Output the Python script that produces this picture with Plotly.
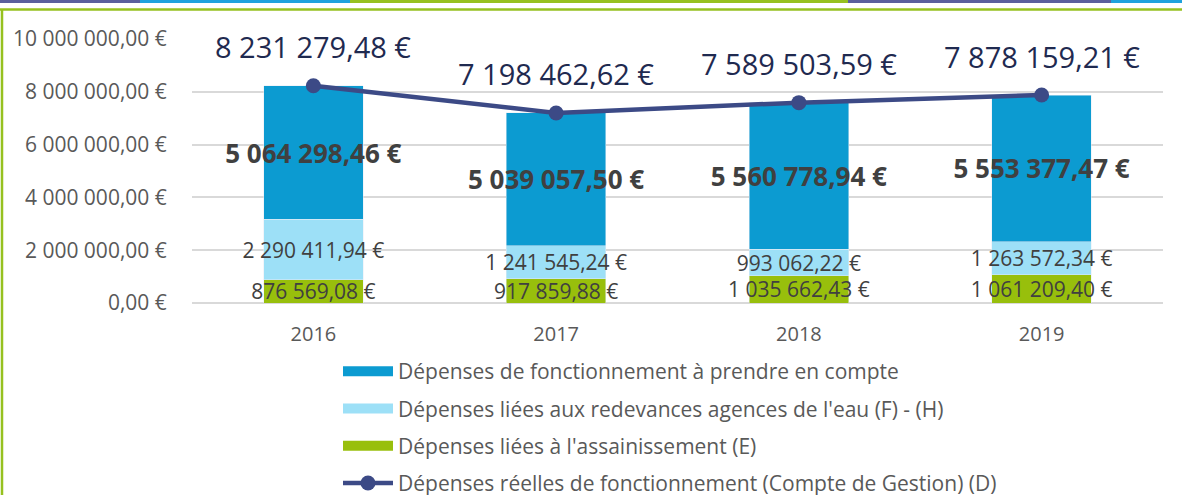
import plotly.graph_objects as go

# data
years = ["2016", "2017", "2018", "2019"]
assainissement = [876569.08, 917859.88, 1035662.43, 1061209.40]
redevances = [2290411.94, 1241545.24, 993062.22, 1263572.34]
fonctionnement = [5064298.46, 5039057.50, 5560778.94, 5553377.47]
depenses_reelles = [8231279.48, 7198462.62, 7589503.59, 7878159.21]

tick_vals = [0, 2000000, 4000000, 6000000, 8000000, 10000000]
tick_text = ["0,00 €", "2 000 000,00 €", "4 000 000,00 €", "6 000 000,00 €",
             "8 000 000,00 €", "10 000 000,00 €"]

names = [
    "Dépenses de fonctionnement à prendre en compte",
    "Dépenses liées aux redevances agences de l'eau (F) - (H)",
    "Dépenses liées à l'assainissement (E)",
    "Dépenses réelles de fonctionnement (Compte de Gestion) (D)",
]

BLUE = "#0c9bd1"
LIGHT = "#9de0f7"
GREEN = "#98bf0c"
NAVY = "#3c4a86"
TXT = "#404040"
GREY = "#595959"
FONT = "Open Sans, sans-serif"

W, H = 1182, 495
ML, MR, MT, MB = 192, 19, 39, 192


def eur(v):
    return f"{v:,.2f}".replace(",", " ").replace(".", ",") + " €"


def px(x, y):
    """pixel -> paper coords"""
    return (x - ML) / (W - ML - MR), (H - MB - y) / (H - MT - MB)


fig = go.Figure()

bar_common = dict(textposition="inside", insidetextanchor="middle", textangle=0,
                  constraintext="none", showlegend=False, hoverinfo="skip")

fig.add_trace(go.Bar(x=years, y=assainissement, marker_color=GREEN,
                     text=[eur(v) for v in assainissement],
                     insidetextfont=dict(family=FONT, size=21, color=TXT), **bar_common))
fig.add_trace(go.Bar(x=years, y=redevances, marker_color=LIGHT,
                     text=[eur(v) for v in redevances],
                     insidetextfont=dict(family=FONT, size=21, color=TXT), **bar_common))
fig.add_trace(go.Bar(x=years, y=fonctionnement, marker_color=BLUE,
                     text=[f"<b>{eur(v)}</b>" for v in fonctionnement],
                     insidetextfont=dict(family=FONT, size=26, color=TXT), **bar_common))

fig.add_trace(go.Scatter(x=years, y=depenses_reelles, mode="lines+markers",
                         line=dict(color=NAVY, width=4.5),
                         marker=dict(size=15, color=NAVY),
                         name=names[3], legendrank=4, legendgroup="d",
                         hoverinfo="skip"))

# legend entries for the bars drawn as wide swatches
for nm, col, rk in [(names[0], BLUE, 1), (names[1], LIGHT, 2), (names[2], GREEN, 3)]:
    fig.add_trace(go.Scatter(x=[years[0]], y=[None], mode="lines",
                             line=dict(color=col, width=11),
                             name=nm, legendrank=rk, legendgroup=nm))

# labels above the line (category index, since the years look numeric)
for i, v in enumerate(depenses_reelles):
    fig.add_annotation(x=i, y=v, text=eur(v), showarrow=False, yshift=39,
                       font=dict(family=FONT, size=29, color="#1f2a50"))

# frame decorations
shapes = []
y0 = px(0, 3)[1]
y1 = px(0, 0)[1]
for a, b, col in [(0, 140, "#5a5f9d"), (140, 350, "#1fa2dc"), (350, 848, "#96c11f"),
                  (848, 1111, "#5a5f9d"), (1111, 1182, "#1fa2dc")]:
    shapes.append(dict(type="rect", xref="paper", yref="paper",
                       x0=px(a, 0)[0], x1=px(b, 0)[0], y0=y0, y1=y1,
                       line_width=0, fillcolor=col, layer="above"))
shapes.append(dict(type="line", xref="paper", yref="paper",
                   x0=px(0, 0)[0], x1=px(W, 0)[0], y0=px(0, 9.5)[1], y1=px(0, 9.5)[1],
                   line=dict(color="#96c11f", width=2.5)))
shapes.append(dict(type="line", xref="paper", yref="paper",
                   x0=px(2, 0)[0], x1=px(2, 0)[0], y0=px(0, 9)[1], y1=px(0, H)[1],
                   line=dict(color="#96c11f", width=2.5)))

lx, ly = px(338, 351)
fig.update_layout(
    barmode="stack",
    bargap=0.59,
    width=W, height=H,
    margin=dict(l=ML, r=MR, t=MT, b=MB, autoexpand=False),
    plot_bgcolor="white",
    paper_bgcolor="white",
    font=dict(family=FONT, size=18, color=GREY),
    shapes=shapes,
    showlegend=True,
    legend=dict(x=lx, y=ly, xanchor="left", yanchor="top", orientation="v",
                font=dict(family=FONT, size=21, color=GREY),
                itemwidth=50, tracegroupgap=7, bgcolor="rgba(0,0,0,0)"),
    xaxis=dict(type="category", categoryorder="array", categoryarray=years,
               range=[-0.5, len(years) - 0.5],
               showgrid=False, showline=False, zeroline=False,
               ticks="outside", ticklen=13, tickcolor="rgba(0,0,0,0)",
               tickfont=dict(family=FONT, size=20, color=GREY)),
    yaxis=dict(range=[0, 10000000], tickvals=tick_vals, ticktext=tick_text,
               showgrid=True, gridcolor="#d9d9d9", gridwidth=2,
               zeroline=True, zerolinecolor="#d9d9d9", zerolinewidth=2,
               showline=False, ticks="outside", ticklen=20,
               tickcolor="rgba(0,0,0,0)",
               tickfont=dict(family=FONT, size=21, color=GREY)),
)

# the page has a default 8px body margin; drop it so the figure sits at 0,0
fig.write_html("out.html", config={"displayModeBar": False},
               post_script="document.body.style.margin='0';")
